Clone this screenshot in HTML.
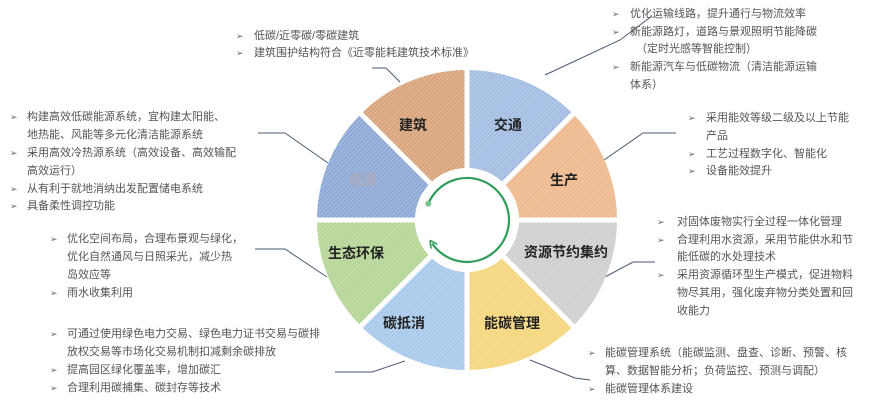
<!DOCTYPE html>
<html><head><meta charset="utf-8"><style>
body{margin:0;width:876px;height:401px;background:#fff;overflow:hidden;position:relative;font-family:"Liberation Sans","Noto Sans CJK SC",sans-serif;}
.t{position:absolute;font-size:11px;color:#555;white-space:nowrap;line-height:14px;}
.b{position:absolute;font-size:9px;color:#666;line-height:14px;}
svg{position:absolute;left:0;top:0;}
</style></head><body>
<svg width="876" height="401" viewBox="0 0 876 401">
<defs>
<pattern id="h" width="3" height="3" patternUnits="userSpaceOnUse" patternTransform="rotate(45)"><line x1="0" y1="0" x2="0" y2="3" stroke="#fff" stroke-opacity="0.45" stroke-width="1"/></pattern>
<marker id="ar" markerWidth="8" markerHeight="8" refX="4" refY="4" orient="auto" markerUnits="userSpaceOnUse"><path d="M0,0 L8,4 L0,8" fill="none" stroke="#2e9e5a" stroke-width="1.6"/></marker>
</defs>
<g stroke="#4a5a70" stroke-width="1" fill="none">
<polyline points="372,68 386,68 400,82"/>
<polyline points="652,16 620,40 545,75"/>
<polyline points="258,133 285,133 328,163"/>
<polyline points="676,133 643,133 604,160"/>
<polyline points="655,262 633,262 603,278"/>
<polyline points="590,380 575,378 530,360"/>
<polyline points="255,249 285,249 327,277"/>
<polyline points="335,372 372,372 405,361"/>
</g>
<g>
<path d="M360.93,113.93 A150,150 0 0 1 467,70 L467,168 A52,52 0 0 0 430.23,183.23Z" fill="#d9a47c"/>
<path d="M467,70 A150,150 0 0 1 573.07,113.93 L503.77,183.23 A52,52 0 0 0 467,168Z" fill="#a3bde3"/>
<path d="M573.07,113.93 A150,150 0 0 1 617,220 L519,220 A52,52 0 0 0 503.77,183.23Z" fill="#efb98e"/>
<path d="M617,220 A150,150 0 0 1 573.07,326.07 L503.77,256.77 A52,52 0 0 0 519,220Z" fill="#cfcfcf"/>
<path d="M573.07,326.07 A150,150 0 0 1 467,370 L467,272 A52,52 0 0 0 503.77,256.77Z" fill="#f5d67c"/>
<path d="M467,370 A150,150 0 0 1 360.93,326.07 L430.23,256.77 A52,52 0 0 0 467,272Z" fill="#a9c9ec"/>
<path d="M360.93,326.07 A150,150 0 0 1 317,220 L415,220 A52,52 0 0 0 430.23,256.77Z" fill="#b6d597"/>
<path d="M317,220 A150,150 0 0 1 360.93,113.93 L430.23,183.23 A52,52 0 0 0 415,220Z" fill="#8ea9d6"/>
<circle cx="467" cy="220" r="150" fill="url(#h)"/>
<circle cx="467" cy="220" r="52" fill="#fff"/>
<g stroke="#fff" stroke-width="5">
<line x1="467" y1="220" x2="467" y2="66"/><line x1="467" y1="220" x2="467" y2="374"/>
<line x1="463" y1="220" x2="621" y2="220"/><line x1="313" y1="220" x2="467" y2="220"/>
<line x1="467" y1="220" x2="576" y2="111"/><line x1="467" y1="220" x2="358" y2="329"/>
<line x1="467" y1="220" x2="576" y2="329"/><line x1="467" y1="220" x2="358" y2="111"/>
</g>
</g>
<path d="M428.3,203.6 A42,42 0 1 1 432.2,243.5" fill="none" stroke="#2e9e5a" stroke-width="2.2" marker-end="url(#ar)"/>
<circle cx="428.3" cy="203.6" r="3" fill="#7cc08f"/>
<g font-family="Liberation Sans,Noto Sans CJK SC,sans-serif" font-size="14" font-weight="bold" fill="#222" text-anchor="middle">
<text x="413" y="130">建筑</text><text x="508" y="130">交通</text>
<text x="564" y="185">生产</text><text x="363" y="185" fill="#aab">能源</text>
<text x="356" y="258">生态环保</text><text x="566" y="257">资源节约集约</text>
<text x="404" y="328">碳抵消</text><text x="512" y="328">能碳管理</text>
</g>
</svg>

<div class="b" style="left:236px;top:29px">➢</div><div class="t" style="left:254px;top:29px">低碳/近零碳/零碳建筑</div>
<div class="b" style="left:236px;top:46px">➢</div><div class="t" style="left:254px;top:46px">建筑围护结构符合《近零能耗建筑技术标准》</div>

<div class="b" style="left:612px;top:7px">➢</div><div class="t" style="left:630px;top:7px">优化运输线路，提升通行与物流效率</div>
<div class="b" style="left:612px;top:25px">➢</div><div class="t" style="left:630px;top:25px">新能源路灯，道路与景观照明节能降碳</div>
<div class="t" style="left:636px;top:42px">（定时光感等智能控制）</div>
<div class="b" style="left:612px;top:60px">➢</div><div class="t" style="left:630px;top:60px">新能源汽车与低碳物流（清洁能源运输</div>
<div class="t" style="left:630px;top:78px">体系）</div>

<div class="b" style="left:688px;top:111px">➢</div><div class="t" style="left:706px;top:111px">采用能效等级二级及以上节能</div>
<div class="t" style="left:706px;top:129px">产品</div>
<div class="b" style="left:688px;top:147px">➢</div><div class="t" style="left:706px;top:147px">工艺过程数字化、智能化</div>
<div class="b" style="left:688px;top:164px">➢</div><div class="t" style="left:706px;top:164px">设备能效提升</div>

<div class="b" style="left:657px;top:215px">➢</div><div class="t" style="left:677px;top:215px">对固体废物实行全过程一体化管理</div>
<div class="b" style="left:657px;top:233px">➢</div><div class="t" style="left:677px;top:233px">合理利用水资源，采用节能供水和节</div>
<div class="t" style="left:677px;top:250px">能低碳的水处理技术</div>
<div class="b" style="left:657px;top:268px">➢</div><div class="t" style="left:677px;top:268px">采用资源循环型生产模式，促进物料</div>
<div class="t" style="left:677px;top:286px">物尽其用，强化废弃物分类处置和回</div>
<div class="t" style="left:677px;top:304px">收能力</div>

<div class="b" style="left:588px;top:346px">➢</div><div class="t" style="left:605px;top:346px">能碳管理系统（能碳监测、盘查、诊断、预警、核</div>
<div class="t" style="left:605px;top:364px">算、数据智能分析；负荷监控、预测与调配）</div>
<div class="b" style="left:588px;top:382px">➢</div><div class="t" style="left:605px;top:382px">能碳管理体系建设</div>

<div class="b" style="left:10px;top:110px">➢</div><div class="t" style="left:27px;top:110px">构建高效低碳能源系统，宜构建太阳能、</div>
<div class="t" style="left:27px;top:128px">地热能、风能等多元化清洁能源系统</div>
<div class="b" style="left:10px;top:146px">➢</div><div class="t" style="left:27px;top:146px">采用高效冷热源系统（高效设备、高效输配</div>
<div class="t" style="left:27px;top:164px">高效运行）</div>
<div class="b" style="left:10px;top:182px">➢</div><div class="t" style="left:27px;top:182px">从有利于就地消纳出发配置储电系统</div>
<div class="b" style="left:10px;top:199px">➢</div><div class="t" style="left:27px;top:199px">具备柔性调控功能</div>

<div class="b" style="left:50px;top:232px">➢</div><div class="t" style="left:67px;top:232px">优化空间布局，合理布景观与绿化，</div>
<div class="t" style="left:67px;top:250px">优化自然通风与日照采光，减少热</div>
<div class="t" style="left:67px;top:268px">岛效应等</div>
<div class="b" style="left:50px;top:286px">➢</div><div class="t" style="left:67px;top:286px">雨水收集利用</div>

<div class="b" style="left:50px;top:327px">➢</div><div class="t" style="left:67px;top:327px">可通过使用绿色电力交易、绿色电力证书交易与碳排</div>
<div class="t" style="left:67px;top:345px">放权交易等市场化交易机制扣减剩余碳排放</div>
<div class="b" style="left:50px;top:363px">➢</div><div class="t" style="left:67px;top:363px">提高园区绿化覆盖率，增加碳汇</div>
<div class="b" style="left:50px;top:381px">➢</div><div class="t" style="left:67px;top:381px">合理利用碳捕集、碳封存等技术</div>
</body></html>
